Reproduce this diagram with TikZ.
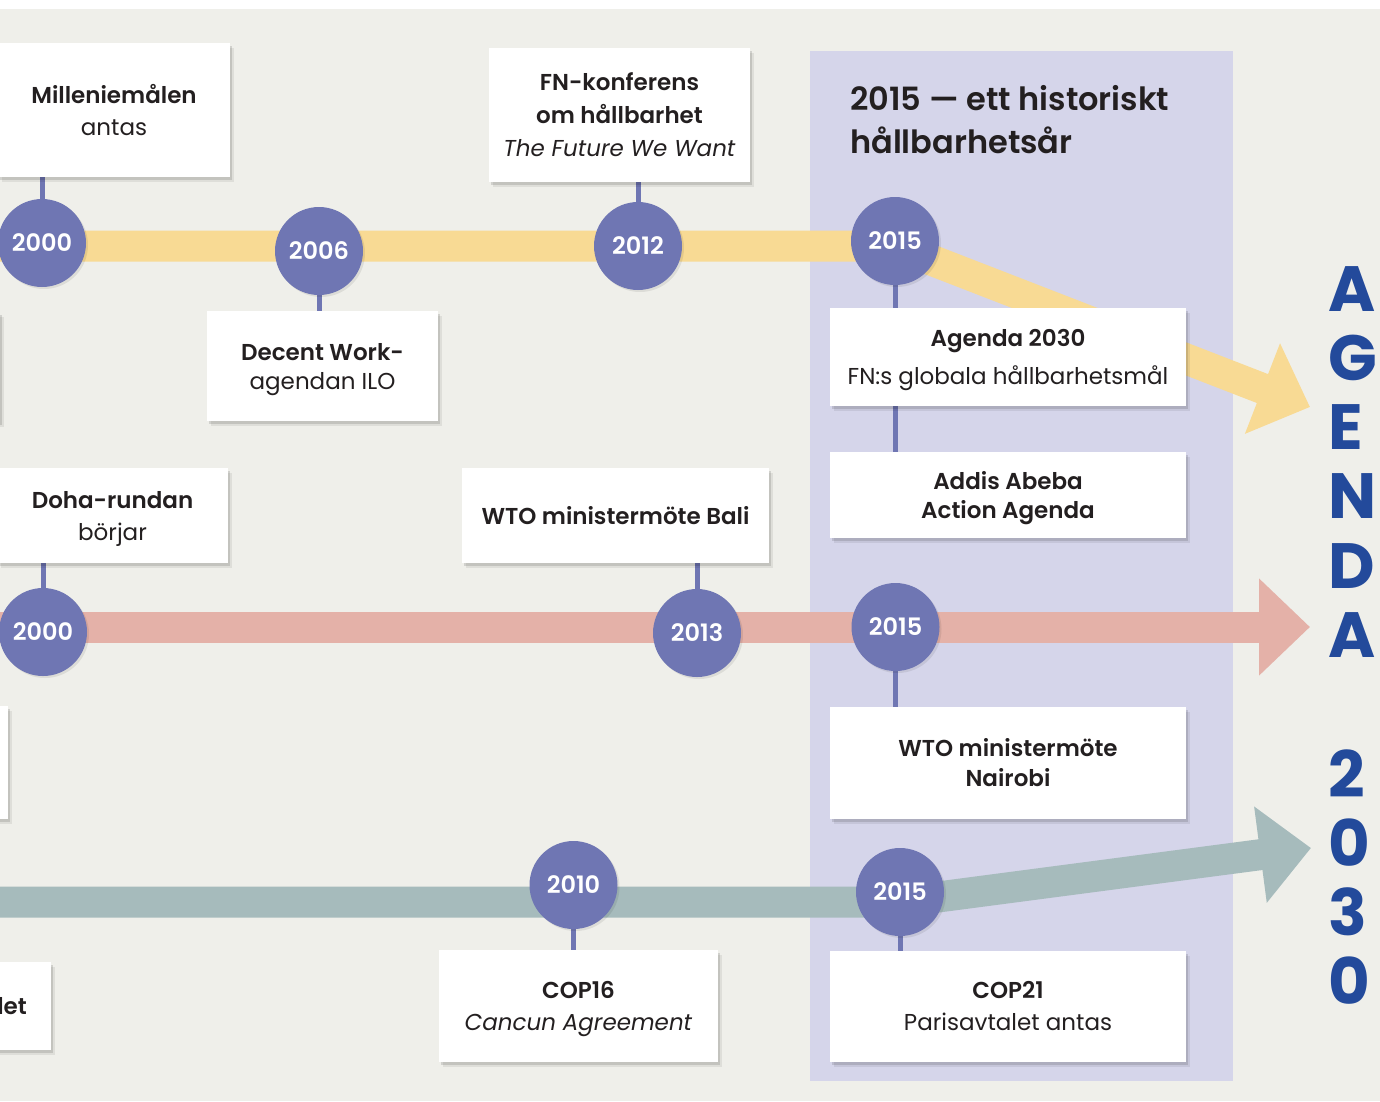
\documentclass[tikz,border=0pt]{standalone}
\usepackage{fontspec}
\setmainfont{Poppins}[BoldFont={Poppins SemiBold}]
\newfontfamily\agfont{Poppins}
\usetikzlibrary{arrows.meta,shadows}

\definecolor{paper}{HTML}{EFEFEA}
\definecolor{panel}{HTML}{D5D5EA}
\definecolor{gulband}{HTML}{F8DA94}
\definecolor{rosaband}{HTML}{E4B1A8}
\definecolor{gronband}{HTML}{A6BBBC}
\definecolor{prick}{HTML}{6F76B3}
\definecolor{agblue}{HTML}{234A9B}
\definecolor{txt}{HTML}{231F20}

\pgfdeclarelayer{bg}
\pgfdeclarelayer{mid}
\pgfsetlayers{bg,mid,main}

\tikzset{
  evbox/.style={fill=white, inner sep=0pt, align=center, text=txt,
    font=\fontsize{23}{32}\selectfont,
    drop shadow={shadow xshift=4pt, shadow yshift=-5pt, fill=black, opacity=.07},
    drop shadow={shadow xshift=2pt, shadow yshift=-3pt, fill=black, opacity=.12}},
  year/.style={circle, fill=prick, minimum size=88pt, inner sep=0pt, text=white,
    font=\bfseries\fontsize{24}{24}\selectfont,
    drop shadow={shadow xshift=2pt, shadow yshift=-2pt, fill=black, opacity=.08}},
  band/.style={line width=31pt, line join=round},
  stem/.style={draw=prick, line width=5pt},
  agletter/.style={anchor=base west, inner sep=0pt, text=agblue,
    font=\agfont\bfseries\fontsize{64}{64}\selectfont}
}

\begin{document}
\begin{tikzpicture}[x=1pt, y=-1pt]
\useasboundingbox (0,0) rectangle (1380,1101);

% background and the 2015 panel
\begin{pgfonlayer}{bg}
  \fill[white] (0,0) rectangle (1380,9);
  \fill[paper] (0,9) rectangle (1380,1101);
  \fill[panel] (810,51) rectangle (1233,1081);
\end{pgfonlayer}

\node[anchor=north west, inner sep=0pt, align=left, text=txt,
  font=\bfseries\fontsize{32}{43}\selectfont] (titel) at (850,85)
  {2015 — ett historiskt\\hållbarhetsår};

% yellow track
\node[year] (g2000) at (42,243) {2000};
\node[year] (g2006) at (319,251) {2006};
\node[year] (g2012) at (638,246) {2012};
\node[year] (g2015) at (895,241) {2015};
\node[evbox, minimum width=232pt, minimum height=134pt] (mill) at (114,110)
  {\textbf{Milleniemålen}\\antas};
\node[evbox, minimum width=231pt, minimum height=110pt, font=\fontsize{23}{29}\selectfont] (decent) at (322.5,366)
  {\textbf{Decent Work-}\\\smash{agendan ILO}};
\node[evbox, minimum width=231pt, minimum height=110pt] (vanster1) at (-116,366.5) {};
\node[evbox, minimum width=261pt, minimum height=134pt, font=\fontsize{23}{33}\selectfont] (fnkonf) at (619.5,115)
  {\textbf{FN-konferens}\\\textbf{om hållbarhet}\\\textit{The Future We Want}};
\node[evbox, minimum width=356pt, minimum height=98pt, font=\fontsize{23}{38}\selectfont] (agenda) at (1008,357)
  {\textbf{Agenda 2030}\\\smash{FN:s globala hållbarhetsmål}};
\node[evbox, minimum width=356pt, minimum height=86pt, font=\fontsize{23}{29}\selectfont] (addis) at (1008,495)
  {\textbf{Addis Abeba}\\\smash{\textbf{Action Agenda}}};

% red track
\node[year] (r2000) at (43,632) {2000};
\node[year] (r2013) at (697,633) {2013};
\node[year] (r2015) at (895.5,627) {2015};
\node[evbox, minimum width=231pt, minimum height=95pt] (doha) at (112.5,515.5)
  {\textbf{Doha-rundan}\\\smash{börjar}};
\node[evbox, minimum width=307pt, minimum height=95pt] (bali) at (615.5,515.5)
  {\textbf{WTO ministermöte Bali}};
\node[evbox, minimum width=230pt, minimum height=113pt] (vanster2) at (-107,762.5) {};
\node[evbox, minimum width=356pt, minimum height=112pt, font=\fontsize{23}{30}\selectfont] (nairobi) at (1008,763)
  {\textbf{WTO ministermöte}\\\textbf{Nairobi}};

% green track
\node[year] (t2010) at (573.5,885) {2010};
\node[year] (t2015) at (900,892) {2015};
\node[evbox, minimum width=279pt, minimum height=112pt] (cop16) at (578.5,1006)
  {\textbf{COP16}\\\smash{\textit{Cancun Agreement}}};
\node[evbox, minimum width=356pt, minimum height=111pt] (cop21) at (1008,1006.5)
  {\textbf{COP21}\\Parisavtalet antas};
\node[evbox, anchor=east, text width=280pt, align=right, minimum height=88pt] (vanster3) at (51,1006)
  {\textbf{let}\hspace*{24pt}};

% tracks and stems
\coordinate (startG) at (-10,246);
\coordinate (knaG) at (895,246);
\coordinate (malG) at (1310,407);
\coordinate (startR) at (-10,627);
\coordinate (malR) at (1310,627);
\coordinate (startT) at (-10,902);
\coordinate (knaT) at (900,902);
\coordinate (malT) at (1311,848);
\begin{pgfonlayer}{mid}
  \draw[band, gulband, -{Triangle[length=51pt,width=94pt]}] (startG) -- (knaG) -- (malG);
  \draw[band, rosaband, -{Triangle[length=51pt,width=94pt]}] (startR) -- (malR);
  \draw[band, gronband, -{Triangle[length=51pt,width=94pt]}] (startT) -- (knaT) -- (malT);

  \draw[stem] (g2000) -- (g2000 |- mill);
  \draw[stem] (g2006) -- (g2006 |- decent);
  \draw[stem] (g2012) -- (g2012 |- fnkonf);
  \draw[stem] (g2015) -- (g2015 |- addis);
  \draw[stem] (r2000) -- (r2000 |- doha);
  \draw[stem] (r2013) -- (r2013 |- bali);
  \draw[stem] (r2015) -- (r2015 |- nairobi);
  \draw[stem] (t2010) -- (t2010 |- cop16);
  \draw[stem] (t2015) -- (t2015 |- cop21);
\end{pgfonlayer}

% AGENDA 2030
\foreach \ch [count=\i] in {A,G,E,N,D,A}
  \node[agletter] (ag\i) at (1328,{242+69.2*\i}) {\ch};
\foreach \ch [count=\i] in {2,0,3,0}
  \node[agletter] (nr\i) at (1328,{728+69*\i}) {\ch};
\end{tikzpicture}
\end{document}
